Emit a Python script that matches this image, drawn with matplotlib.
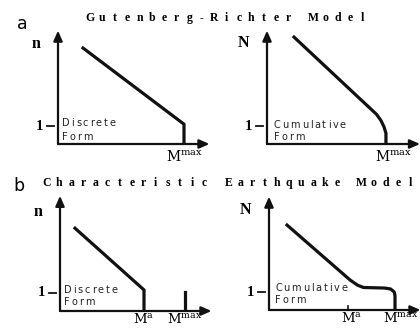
import matplotlib
matplotlib.use("Agg")
import matplotlib.pyplot as plt

W, H = 420, 329
XU, YU = 15.0, 18.0  # px per data unit

# ---- data (schematic units: magnitude on x, count on y) ----
gr_disc_M = [1.67, 8.4, 8.4]
gr_disc_n = [5.33, 1.1, 0.0]
gr_cum_M = [1.8, 7.3, 7.6, 7.8, 7.93, 7.93]
gr_cum_N = [5.94, 1.65, 1.3, 0.95, 0.6, 0.0]
ch_disc_M = [1.0, 5.6, 5.6]
ch_disc_n = [4.6, 1.17, 0.0]
ch_spike_M = [8.33, 8.33]
ch_spike_n = [0.0, 1.05]
ch_cum_M = [1.2, 5.4, 5.9, 6.3, 7.7, 8.1, 8.35, 8.4, 8.4]
ch_cum_N = [4.72, 1.67, 1.38, 1.25, 1.22, 1.17, 1.0, 0.8, 0.0]
Ma_left, Mmax_left = 5.6, 8.33
Ma_right, Mmax_right = 5.27, 8.4

title_a = "Gutenberg-Richter Model"
title_b = "Characteristic Earthquake Model"

plt.rcParams["mathtext.fontset"] = "dejavuserif"
fig = plt.figure(figsize=(W / 100, H / 100), dpi=100)
fig.patch.set_facecolor("white")
renderer = fig.canvas.get_renderer()


def pax(ox, oy, wu, hu):
    ax = fig.add_axes([ox / W, 1 - oy / H, wu * XU / W, hu * YU / H])
    ax.set_xlim(0, wu)
    ax.set_ylim(0, hu)
    ax.axis("off")
    for xy in [(0, hu), (wu, 0)]:
        ax.annotate("", xy=xy, xytext=(0, 0),
                    arrowprops=dict(arrowstyle="-|>,head_length=0.5,head_width=0.22",
                                    lw=1.6, color="#111",
                                    mutation_scale=12, shrinkA=0, shrinkB=0),
                    annotation_clip=False)
    ax.plot([-0.75, -0.25], [1, 1], color="#111", lw=1.3, clip_on=False)
    ax.text(-1.0, 1, "1", ha="right", va="center", fontsize=10.5,
            fontweight="bold", family="Liberation Serif")
    return ax


def tracked(ax, x, y, s, track_px, **kw):
    """Write s starting at data x, placing letters with extra tracking."""
    xpx = x * XU
    for ch in s:
        t = ax.text(xpx / XU, y, ch, ha="left", va="center", **kw)
        w = t.get_window_extent(renderer).width if ch != " " else 3
        xpx += w + track_px


def mlabel(ax, x, y, sup, size=10):
    ax.text(x, y, r"$\mathrm{M}^{\mathrm{" + sup + r"}}$", ha="center",
            va="top", fontsize=size, clip_on=False)


lw = 2.3
small = dict(fontsize=7, family="DejaVu Sans", color="#222")
TR = 1.8

# a-left
ax = pax(58, 144, 10.1, 6.3)
ax.plot(gr_disc_M, gr_disc_n, color="#111", lw=lw, solid_joinstyle="miter")
ax.text(-1.2, 5.55, "n", ha="right", va="center", fontsize=11.5,
        fontweight="bold", family="Liberation Serif")
tracked(ax, 0.27, 1.17, "Discrete", TR, **small)
tracked(ax, 0.27, 0.39, "Form", TR, **small)
mlabel(ax, 8.4, -0.3, "max")

# a-right
ax = pax(267, 144, 10.2, 6.3)
ax.plot(gr_cum_M, gr_cum_N, color="#111", lw=lw)
ax.text(-1.2, 5.6, "N", ha="right", va="center", fontsize=11.5,
        fontweight="bold", family="Liberation Serif")
tracked(ax, 0.45, 1.05, "Cumulative", TR, **small)
tracked(ax, 0.45, 0.39, "Form", TR, **small)
mlabel(ax, 8.4, -0.3, "max")

# b-left
ax = pax(60, 311, 10.1, 6.4)
ax.plot(ch_disc_M, ch_disc_n, color="#111", lw=lw, solid_joinstyle="miter")
ax.plot(ch_spike_M, ch_spike_n, color="#111", lw=lw)
ax.text(-1.2, 5.5, "n", ha="right", va="center", fontsize=11.5,
        fontweight="bold", family="Liberation Serif")
tracked(ax, 0.25, 1.17, "Discrete", TR, **small)
tracked(ax, 0.25, 0.5, "Form", TR, **small)
mlabel(ax, Ma_left, -0.05, "a", 9.5)
mlabel(ax, Mmax_left, -0.05, "max", 9.5)

# b-right
ax = pax(269, 310, 10.1, 6.3)
ax.plot(ch_cum_M, ch_cum_N, color="#111", lw=lw)
ax.plot([Ma_right, Ma_right], [0, 0.25], color="#111", lw=1.2)
ax.text(-1.2, 5.55, "N", ha="right", va="center", fontsize=11.5,
        fontweight="bold", family="Liberation Serif")
tracked(ax, 0.4, 1.22, "Cumulative", TR, **small)
tracked(ax, 0.4, 0.55, "Form", TR, **small)
mlabel(ax, Ma_right + 0.2, -0.05, "a", 9.5)
mlabel(ax, Mmax_right + 0.4, -0.05, "max", 9.5)

# titles and panel letters
for i, ch in enumerate(title_a):
    fig.text((90 + i * 12.4) / W, 1 - 18 / H, ch, ha="center", va="center",
             fontsize=8.5, fontweight="bold", family="Liberation Serif")
for i, ch in enumerate(title_b):
    fig.text((47 + i * 12.1) / W, 1 - 183 / H, ch, ha="center", va="center",
             fontsize=8.5, fontweight="bold", family="Liberation Serif")
fig.text(22 / W, 1 - 24 / H, "a", ha="center", va="center", fontsize=12.5,
         family="DejaVu Sans")
fig.text(19 / W, 1 - 186 / H, "b", ha="center", va="center", fontsize=12.5,
         family="DejaVu Sans")

fig.savefig("out.png", dpi=100, facecolor="white")
